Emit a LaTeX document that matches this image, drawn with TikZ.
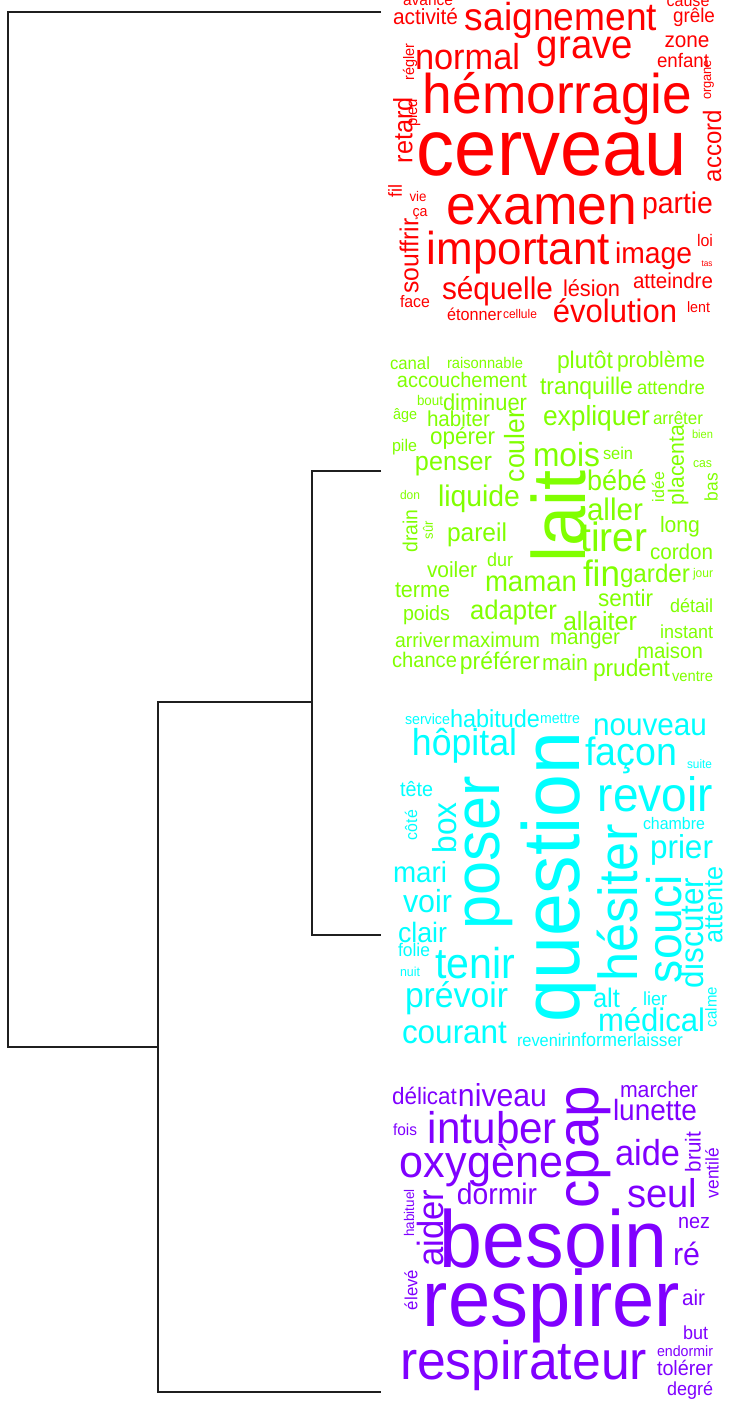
\documentclass[tikz,border=0pt]{standalone}
\usepackage{fontspec}
\setmainfont{Liberation Sans}
\usepackage{tikz}
\definecolor{clusterred}{HTML}{FF0000}
\definecolor{clustergreen}{HTML}{80FF00}
\definecolor{clustercyan}{HTML}{00FFFF}
\definecolor{clusterpurple}{HTML}{8000FF}
\newcommand{\wordstretch}{1.05}
\tikzset{
  branch/.style={
    line width=2.8pt,
    draw=black!88
  },
  cloud word/.style={
    inner sep=0pt,
    text=#1
  }
}

\begin{document}
\begin{tikzpicture}[x=1pt, y=-1pt]
    \fill[white] (0,0) rectangle (730,1404);
    \useasboundingbox (0,0) rectangle (730,1404);

    % 树状图：叶子与合并点
    \coordinate (leafred) at (381,12);
    \coordinate (leafgreen) at (381,471);
    \coordinate (leafcyan) at (381,935);
    \coordinate (leafpurple) at (381,1392);
    \coordinate (root) at (8,1047);
    \coordinate (merge2) at (158,1047);
    \coordinate (merge3) at (312,702);

    \draw[branch] (leafred) -| (root) -- (merge2);
    \draw[branch] (merge3) -| (merge2) |- (leafpurple);
    \draw[branch] (leafgreen) -| (merge3) |- (leafcyan);

    % 第一类：红色
    \foreach \x/\y/\w/\a/\t [count=\i] in {
      428/1/50/0/avance, 425.5/17/65/0/activité, 561/20/192/0/saignement,
      688/2/43/0/cause, 694/17/42/0/grêle, 467.5/57/105/0/normal,
      585/52/96/0/grave, 687/42/45/0/zone, 683/60/52/0/enfant,
      410/62/37/90/régler, 709/80/40/90/organe, 557.5/99/269/0/hémorragie,
      403/130/66/90/retard, 413/113/28/90/pied, 552/154/270/0/cerveau,
      712/146/72/90/accord, 395/191/13/90/fil, 418/197/17/0/vie,
      420/214/15/0/ça, 409/256/75/90/souffrir, 542/210/190/0/examen,
      677.5/206/71/0/partie, 518.5/253/183/0/important, 653.5/256/77/0/image,
      705/240/16/0/loi, 707/264/11/0/tas, 673/281/80/0/atteindre,
      497.5/291/111/0/séquelle, 591.5/288/57/0/lésion, 415/302/30/0/face,
      474.5/314/55/0/étonner, 520/314/34/0/cellule, 615/311/124/0/évolution,
      698.5/307/23/0/lent}
      \node[cloud word=clusterred, rotate=\a] (red\i) at (\x,\y)
        {\scalebox{1}[\wordstretch]{\resizebox{\w pt}{!}{\t}}};

    % 第二类：绿色
    \foreach \x/\y/\w/\a/\t [count=\i] in {
      410/363/40/0/canal, 485/363/76/0/raisonnable, 585/362/56/0/plutôt,
      661/362/88/0/problème, 462/380/130/0/accouchement, 586.5/388/93/0/tranquille,
      671/388/68/0/attendre, 430/400/26/0/bout, 485/402/84/0/diminuer,
      405/416/24/0/âge, 458.5/419/63/0/habiter, 515/446/72/90/couler,
      596.5/418/107/0/expliquer, 678/418/50/0/arrêter, 462.5/438/65/0/opérer,
      404.5/447/25/0/pile, 678/465/80/90/placenta, 702.5/434/21/0/bien,
      566.5/455/67/0/mois, 618/453/30/0/sein, 453.5/466/77/0/penser,
      702.5/464/19/0/cas, 617/480/60/0/bébé, 658/487/30/90/idée,
      711/487/28/90/bas, 410/495/20/0/don, 479/499/82/0/liquide,
      558/516/92/90/lait, 615/509/56/0/aller, 410/531/43/90/drain,
      428/530/18/90/sûr, 477/535/60/0/pareil, 614/537/67/0/tirer,
      680/527/40/0/long, 681.5/552/63/0/cordon, 452/570/50/0/voiler,
      500/560/26/0/dur, 531/584/92/0/maman, 601.5/573/37/0/fin,
      655/576/70/0/garder, 703/574/20/0/jour, 422.5/590/55/0/terme,
      625.5/598/55/0/sentir, 426.5/615/47/0/poids, 513.5/613/87/0/adapter,
      600/621/74/0/allaiter, 691.5/606/43/0/détail, 422.5/640/55/0/arriver,
      496/640/88/0/maximum, 585/641/70/0/manger, 686.5/632/53/0/instant,
      424.5/660/65/0/chance, 500/663/80/0/préférer, 565/663/46/0/main,
      670/651/66/0/maison, 631.5/670/77/0/prudent, 692.5/677/41/0/ventre}
      \node[cloud word=clustergreen, rotate=\a] (green\i) at (\x,\y)
        {\scalebox{1}[\wordstretch]{\resizebox{\w pt}{!}{\t}}};

    % 第三类：青色
    \foreach \x/\y/\w/\a/\t [count=\i] in {
      427.5/719/45/0/service, 495/719/90/0/habitude, 560/719/40/0/mettre,
      650/727/114/0/nouveau, 464.5/746/105/0/hôpital, 631/755/92/0/façon,
      699.5/764/25/0/suite, 559/877/291/90/question, 489/853/153/90/poser,
      416.5/789/33/0/tête, 411/825/30/90/côté, 445/828/51/90/box,
      655.5/794/115/0/revoir, 674/824/62/0/chambre, 618/903/157/90/hésiter,
      681.5/850/63/0/prier, 420/872/54/0/mari, 427.5/901/49/0/voir,
      422.5/932/49/0/clair, 414/950/32/0/folie, 410/972/20/0/nuit,
      475/963/80/0/tenir, 456.5/998/103/0/prévoir, 454.5/1033/105/0/courant,
      664/929/108/90/souci, 692/933/110/90/discuter, 714/905/77/90/attente,
      711/1007/40/90/calme, 606.5/998/27/0/alt, 655/999/24/0/lier,
      651.5/1020/107/0/médical, 542/1040/50/0/revenir, 600/1040/66/0/informer,
      658/1040/50/0/laisser}
      \node[cloud word=clustercyan, rotate=\a] (cyan\i) at (\x,\y)
        {\scalebox{1}[\wordstretch]{\resizebox{\w pt}{!}{\t}}};

    % 第四类：紫色
    \foreach \x/\y/\w/\a/\t [count=\i] in {
      424.5/1096/65/0/délicat, 502.5/1095/89/0/niveau, 659/1090/78/0/marcher,
      589/1147/123/90/cpap, 655/1110/84/0/lunette, 405/1130/24/0/fois,
      492.5/1128/129/0/intuber, 693/1152/40/90/bruit, 712/1173/50/90/ventilé,
      481.5/1166/163/0/oxygène, 647.5/1153/65/0/aide, 497/1194/80/0/dormir,
      662/1193/70/0/seul, 694/1223/32/0/nez, 430/1228/77/90/aider,
      409/1213/47/90/habituel, 411/1290/40/90/élevé, 553.5/1239/227/0/besoin,
      686.5/1254/27/0/ré, 551.5/1306/257/0/respirer, 693.5/1298/23/0/air,
      695.5/1333/25/0/but, 523.5/1365/247/0/respirateur, 685/1351/56/0/endormir,
      685/1368/56/0/tolérer, 690/1390/46/0/degré}
      \node[cloud word=clusterpurple, rotate=\a] (purple\i) at (\x,\y)
        {\scalebox{1}[\wordstretch]{\resizebox{\w pt}{!}{\t}}};

\end{tikzpicture}
\end{document}
